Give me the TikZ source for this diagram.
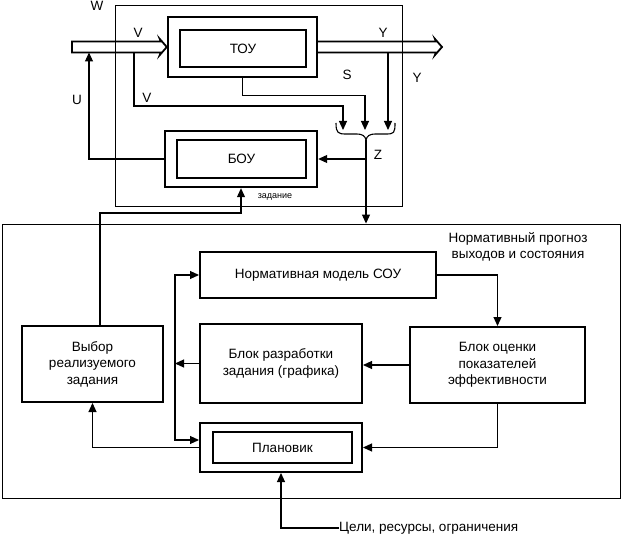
\documentclass[tikz,border=0pt]{standalone}
\usepackage{fontspec}
\setmainfont{Liberation Sans}
\usetikzlibrary{arrows.meta,calc}
\tikzset{
  thickbox/.style={draw, line width=2pt, inner sep=0pt, align=center},
  thinbox/.style={draw, line width=0.9pt, inner sep=0pt},
  arr/.style={line width=1.1pt, -{Triangle[length=9pt,width=8pt]}},
  plain/.style={line width=1.1pt},
  dbl/.style={line width=1.8pt, line join=miter},
  lbl/.style={inner sep=0pt, font=\fontsize{13.5}{16.5}\selectfont},
  txt/.style={font=\fontsize{13.5}{16.5}\selectfont, align=center}
}
\begin{document}
\begin{tikzpicture}[x=1pt,y=-1pt]
\useasboundingbox (0,0) rectangle (623,537);
% frames
\node[thinbox, minimum width=287pt, minimum height=201pt] (wbox) at (258.5,105.5) {};
\node[thinbox, minimum width=618pt, minimum height=274pt] (big) at (311,361) {};
% upper blocks
\node[thickbox, line width=2.4pt, minimum width=149pt, minimum height=60pt] (tou) at (242.5,47) {};
\node[thickbox, minimum width=126pt, minimum height=37pt, txt] (touin) at (243,48.5) {ТОУ};
\node[thickbox, line width=2.4pt, minimum width=152pt, minimum height=56pt] (bou) at (241,159) {};
\node[thickbox, minimum width=129pt, minimum height=38pt, txt] (bouin) at (241.5,159) {БОУ};
% lower blocks
\node[thickbox, minimum width=236pt, minimum height=46pt, txt] (norm) at (318,275) {Нормативная модель СОУ};
\node[thickbox, minimum width=175pt, minimum height=76pt, txt] (ocen) at (497.5,365) {Блок оценки\\показателей\\эффективности};
\node[thickbox, minimum width=162pt, minimum height=79pt, txt] (razr) at (281,363.5) {Блок разработки\\задания (графика)};
\node[thickbox, minimum width=141pt, minimum height=76pt, txt] (vyb) at (92.5,364) {Выбор\\реализуемого\\задания};
\node[thickbox, minimum width=162pt, minimum height=49pt] (plan) at (281,447.5) {};
\node[thickbox, minimum width=139pt, minimum height=31pt, txt] (planin) at (282.5,447.5) {Плановик};
% labels
\node[lbl] (lW) at (97,6) {W};
\node[lbl] (lV1) at (138,33) {V};
\node[lbl] (lY1) at (383,33) {Y};
\node[lbl] (lS) at (347,75) {S};
\node[lbl] (lY2) at (417,78) {Y};
\node[lbl] (lU) at (77,100) {U};
\node[lbl] (lV2) at (147,98) {V};
\node[lbl] (lZ) at (378,155) {Z};
\node[inner sep=0pt, font=\fontsize{9}{10}\selectfont] (lzad) at (275,197) {задание};
\node[txt, inner sep=0pt] (lprog) at (518,247) {Нормативный прогноз\\выходов и состояния};
\node[lbl, anchor=west] (goal) at (339,528) {Цели, ресурсы, ограничения};
% coordinates
\coordinate (vin) at (72,47);
\coordinate (yout) at (442,47);
\coordinate (uend) at (89,52.5);
\coordinate (vbr) at (134,52.5);
\coordinate (ybr) at (388,52.5);
\coordinate (zv) at (343,130);
\coordinate (zs) at (365,130);
\coordinate (zy) at (388,130);
\coordinate (ztip) at (366,140);
\coordinate (bus) at (175,363.5);
% double arrows
\draw[dbl] ($(vin)+(0,-5.5)$) -- ($(tou.west)+(-6,-5.5)$) -- ($(tou.west)+(-7,-8)$) -- (tou.west)
  -- ($(tou.west)+(-7,8)$) -- ($(tou.west)+(-6,5.5)$) -- ($(vin)+(0,5.5)$) -- cycle;
\draw[dbl] ($(tou.east)+(0,-5.5)$) -- ($(yout)+(-6,-5.5)$) -- ($(yout)+(-7,-8)$) -- (yout)
  -- ($(yout)+(-7,8)$) -- ($(yout)+(-6,5.5)$) -- ($(tou.east)+(0,5.5)$);
% upper connectors
\draw[arr] (bou.west) -| (uend);
\draw[arr] (vbr) -- (vbr |- 0,106) -| (zv);
\draw[arr] (tou.south) -- ++(0,17) -| (zs);
\draw[arr] (ybr) -- (zy);
\draw[plain] (336,123) .. controls (336,133) and (338,134) .. (346,134) -- (356,134)
  .. controls (363,134) and (365,136) .. (ztip)
  .. controls (367,136) and (369,134) .. (376,134) -- (386,134)
  .. controls (394,134) and (395,133) .. (395,123);
\draw[arr] (ztip) -- (ztip |- big.north);
\draw[arr] (ztip |- bou.east) -- (bou.east);
\draw[arr] ([xshift=7.5pt]vyb.north) -- ++(0,-112) -| (bou.south);
% lower connectors
\draw[arr] (razr.west) -- (bus);
\draw[arr] (bus) |- (norm.west);
\draw[arr] (bus) |- ([yshift=7.5pt]plan.west);
\draw[arr] (ocen.west) -- (ocen.west -| razr.east);
\draw[arr] (norm.east) -| (ocen.north);
\draw[arr] (ocen.south) |- (plan.east);
\draw[arr] (plan.west) -| (vyb.south);
\draw[arr] (goal.west) -| (plan.south);
\end{tikzpicture}
\end{document}
